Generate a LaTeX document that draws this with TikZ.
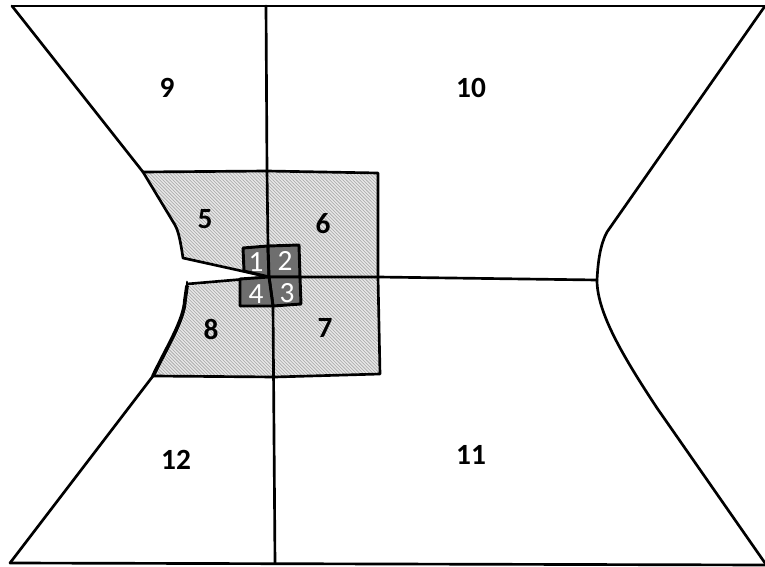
\documentclass[tikz,border=0pt]{standalone}
\usepackage{fontspec}
\setmainfont{Carlito}
\usetikzlibrary{patterns.meta}
\tikzdeclarepattern{name=finehatch, type=uncolored,
  bounding box={(-0.1pt,-0.1pt) and (2.6pt,2.6pt)}, tile size={(2.5pt,2.5pt)},
  code={\draw[line width=0.45pt] (-0.2pt,2.7pt) -- (2.7pt,-0.2pt);}}
\definecolor{lightfill}{HTML}{E6E6E6}
\definecolor{hatchcol}{HTML}{A8A8A8}
\definecolor{darkfill}{HTML}{6E6E6E}
\tikzset{
  wall/.style={line width=2pt, line join=round, line cap=round},
  thickwall/.style={line width=2.8pt, line cap=round},
  zone/.style={fill=lightfill, postaction={pattern={finehatch}, pattern color=hatchcol}},
  core/.style={fill=darkfill, draw, line width=2.2pt, line join=round},
  lab/.style={font=\fontsize{22}{22}\selectfont\bfseries},
  corelab/.style={font=\fontsize{22}{22}\selectfont, text=white}
}
\begin{document}
\begin{tikzpicture}[x=0.75pt,y=-0.75pt]
\useasboundingbox (0,0) rectangle (765,567);
\coordinate (C) at (269,277);
% light zones
\path[zone] (143,172) -- (267,171) -- (C) -- (183,258) .. controls (181,245) and (179,232) .. (175,225) -- cycle;
\path[zone] (267,171) -- (378,173) -- (378,277) -- (C) -- cycle;
\path[zone] (C) -- (378,277) -- (380,374) -- (275,377) -- (273,306) -- cycle;
\path[zone] (187,286) -- (C) -- (273,306) -- (275,377) -- (153,376) .. controls (168,345) and (184,320) .. (185,300) -- cycle;
% lines
\draw[wall] (12,6) -- (765,6);
\draw[wall] (10,563) -- (765,565);
\draw[wall] (12,6) -- (143,172) -- (175,225) .. controls (179,232) and (181,245) .. (183,258) -- (C);
\draw[wall] (187,282) -- (187,288);
\draw[wall] (187,284) -- (C);
\draw[thickwall] (187,286) -- (185,300) .. controls (184,320) and (168,345) .. (153,376);
\draw[wall] (153,376) -- (10,563);
\draw[wall] (765,6) -- (607,232) .. controls (600,245) and (598,262) .. (597,280)
  .. controls (597,312) and (622,355) .. (657,408) -- (765,563);
\draw[wall] (266,6) -- (267,171) -- (268,246);
\draw[wall] (273,306) -- (275,563);
\draw[wall] (C) -- (378,277) -- (597,280);
\draw[wall] (143,172) -- (267,171) -- (378,173) -- (378,277) -- (380,374) -- (275,377) -- (153,376);
% core squares
\draw[core] (243,248) -- (268,246) -- (C) -- (244,271) -- cycle;
\draw[core] (268,246) -- (299,245) -- (300,277) -- (C) -- cycle;
\draw[core] (C) -- (300,277) -- (301,304) -- (273,306) -- cycle;
\draw[core] (240,279) -- (C) -- (273,306) -- (240,306) -- cycle;
% labels
\node[corelab] (l1) at (256,262) {1};
\node[corelab] (l2) at (285,261) {2};
\node[corelab] (l3) at (287,293) {3};
\node[corelab] (l4) at (256,294) {4};
\node[lab] (l5) at (205,219) {5};
\node[lab] (l6) at (323,224) {6};
\node[lab] (l7) at (325,328) {7};
\node[lab] (l8) at (211,329) {8};
\node[lab] (l9) at (167,88) {9};
\node[lab] (l10) at (471,88) {10};
\node[lab] (l11) at (471,455) {11};
\node[lab] (l12) at (176,460) {12};
\end{tikzpicture}
\end{document}
